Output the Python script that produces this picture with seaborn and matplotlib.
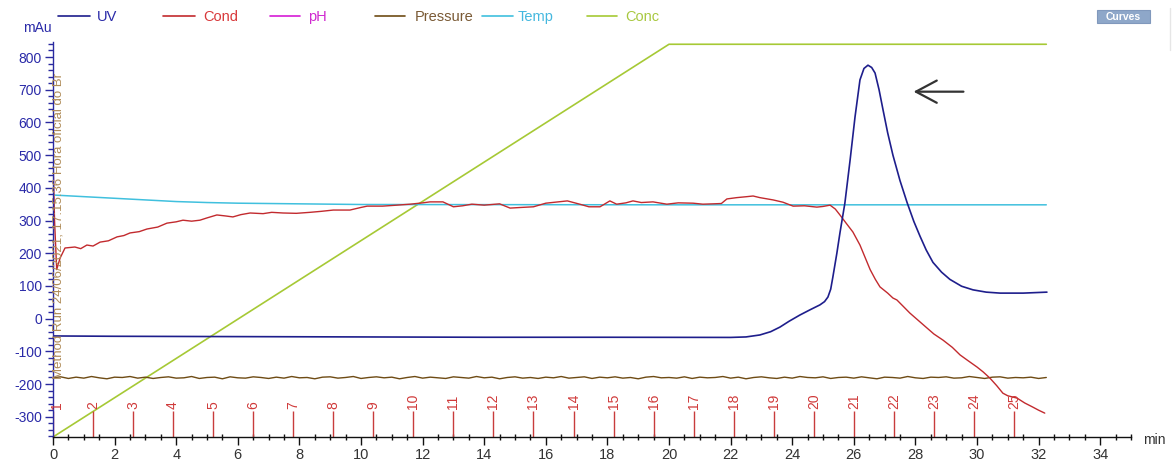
import numpy as np
import pandas as pd
import matplotlib
matplotlib.use("Agg")
import matplotlib.pyplot as plt
from matplotlib.lines import Line2D
from matplotlib.patches import Rectangle
from matplotlib.ticker import MultipleLocator
import seaborn as sns

# ---------------- data ----------------
uv_t = [0, 2, 6, 10, 14, 18, 22, 22.5, 22.95, 23.3, 23.6, 23.9, 24.25, 24.6, 24.9,
        25.05, 25.16, 25.25, 25.32, 25.45, 25.55, 25.71, 25.88, 26.04, 26.2, 26.33,
        26.46, 26.58, 26.69, 26.82, 26.95, 27.1, 27.27, 27.5, 27.73, 27.95, 28.15,
        28.35, 28.57, 28.85, 29.12, 29.5, 29.87, 30.3, 30.75, 31.5, 32.27]
uv_v = [-53, -54, -55, -56, -57, -57, -57.5, -56, -50, -40, -26, -8, 11, 28, 42,
        52, 66, 90, 127, 200, 262, 353, 485, 617, 730, 765,
        775, 768, 751, 700, 638, 568, 500, 422, 355, 297, 252,
        210, 172, 142, 120, 99, 88, 81, 78, 78, 81]

cond_t = [0.0, 0.05, 0.12, 0.23, 0.39, 0.71, 0.9, 1.1, 1.3, 1.53, 1.8, 2.08, 2.3, 2.5,
          2.8, 3.05, 3.4, 3.7, 4.0, 4.22, 4.5, 4.77, 5.0, 5.32, 5.6, 5.84, 6.1, 6.4,
          6.82, 7.1, 7.47, 7.9, 8.34, 8.7, 9.1, 9.64, 10.0, 10.2, 10.7, 11.17, 11.6,
          12.0, 12.24, 12.66, 13.0, 13.3, 13.6, 14.0, 14.5, 14.84, 15.2, 15.6, 16.0,
          16.4, 16.7, 17.1, 17.4, 17.76, 18.08, 18.3, 18.6, 18.83, 19.1, 19.48, 19.93,
          20.3, 20.78, 21.1, 21.43, 21.7, 21.88, 22.2, 22.53, 22.73, 22.95, 23.38,
          23.7, 24.03, 24.4, 24.8, 25.0, 25.23, 25.4, 25.55, 25.75, 25.97, 26.2,
          26.53, 26.7, 26.85, 27.1, 27.27, 27.4, 27.6, 27.82, 28.1, 28.38, 28.6,
          28.9, 29.2, 29.45, 29.7, 30.0, 30.2, 30.42, 30.64, 30.84, 31.0, 31.3,
          31.55, 31.8, 32.0, 32.2]
cond_v = [500, 300, 150, 185, 216, 219, 214, 225, 222, 234, 238, 250, 254, 262,
          266, 274, 280, 292, 296, 301, 298, 301, 308, 317, 314, 311, 318, 323,
          321, 325, 323, 322, 325, 328, 332, 332, 340, 344, 344, 347, 350,
          354, 357, 357, 342, 345, 350, 347, 351, 338, 340, 342, 353,
          357, 360, 350, 342, 342, 360, 350, 354, 360, 355, 357, 350,
          354, 353, 350, 351, 352, 366, 370, 373, 375, 370, 363,
          356, 344, 345, 341, 343, 347, 335, 317, 292, 265, 225,
          150, 120, 97, 78, 63, 57, 38, 17, -6, -29, -47,
          -66, -88, -111, -128, -148, -163, -182, -205, -228, -236, -243,
          -258, -270, -280, -289]

temp_t = [0, 1, 2, 3, 4, 5, 6, 7, 8, 9, 10, 20, 32.25]
temp_v = [378, 373, 368, 363, 358, 355, 353, 352, 351, 350, 349, 348, 348]

conc_t = [0, 20, 32.25]
conc_v = [-362, 839, 839]

pressure_step = 0.25
pressure_v = [
    -181, -178, -183, -179, -182, -177, -181, -184, -179, -180,
    -177, -182, -179, -183, -180, -178, -182, -181, -177, -183,
    -180, -179, -184, -178, -181, -182, -178, -180, -183, -179,
    -182, -177, -181, -180, -184, -179, -178, -182, -180, -177,
    -183, -180, -178, -181, -179, -184, -180, -177, -182, -179,
    -181, -183, -178, -180, -182, -177, -181, -179, -184, -180,
    -178, -182, -180, -183, -179, -181, -177, -182, -180, -178,
    -183, -179, -181, -178, -182, -180, -184, -179, -177, -181,
    -180, -182, -178, -183, -179, -181, -180, -177, -182, -179,
    -184, -180, -178, -181, -183, -179, -182, -177, -180, -181,
    -178, -183, -180, -179, -182, -178, -181, -184, -179, -180,
    -182, -177, -181, -183, -179, -180, -178, -182, -181, -177,
    -180, -183, -179, -178, -182, -180, -181, -179, -183, -180]
pressure_t = [i * pressure_step for i in range(len(pressure_v))]

frac_t = [0, 1.3, 2.6, 3.9, 5.2, 6.5, 7.8, 9.1, 10.4, 11.7, 13.0, 14.3, 15.6,
          16.9, 18.2, 19.5, 20.8, 22.1, 23.4, 24.7, 26.0, 27.3, 28.6, 29.9, 31.2]
frac_labels = [str(i) for i in range(1, 26)]

series_names = ["UV", "Cond", "pH", "Pressure", "Temp", "Conc"]
line_colors = {"UV": "#1E1E8C", "Cond": "#C22A2E", "pH": "#D61BD6",
               "Pressure": "#6E4B14", "Temp": "#40C0DE", "Conc": "#A6C935"}
text_colors = {"UV": "#2A2AA8", "Cond": "#D8383A", "pH": "#D02AD0",
               "Pressure": "#7A5A35", "Temp": "#45B8DF", "Conc": "#A8C840"}

x_ticks = list(range(0, 35, 2))
y_ticks = list(range(-300, 801, 100))

# ---------------- figure ----------------
sns.set_style("white")
plt.rcParams['font.family'] = ['Liberation Sans', 'DejaVu Sans']
plt.rcParams['axes.unicode_minus'] = False

W, H = 1175, 469
fig = plt.figure(figsize=(W / 100, H / 100), dpi=100)
ax = fig.add_axes([53 / W, (H - 437) / H, (1131 - 53) / W, (437 - 42.3) / H])
XMIN, XMAX, YMIN, YMAX = 0, 35, -362, 845

frames = {
    "Conc": pd.DataFrame({"t": conc_t, "v": conc_v}),
    "Temp": pd.DataFrame({"t": temp_t, "v": temp_v}),
    "Pressure": pd.DataFrame({"t": pressure_t, "v": pressure_v}),
    "Cond": pd.DataFrame({"t": cond_t, "v": cond_v}),
    "UV": pd.DataFrame({"t": uv_t, "v": uv_v}),
}
widths = {"Conc": 1.2, "Temp": 1.1, "Pressure": 1.0, "Cond": 1.0, "UV": 1.2}
for name, df in frames.items():
    sns.lineplot(data=df, x="t", y="v", ax=ax, color=line_colors[name],
                 lw=widths[name], estimator=None, sort=False, legend=False)

# fraction markers
ax.vlines(frac_t, YMIN, -281, color="#C83C3C", lw=1.0)
for t, lab in zip(frac_t, frac_labels):
    ax.text(t + (0.12 if t == 0 else 0), -277, lab, rotation=90, ha="center",
            va="bottom", color="#D03A3A", fontsize=10)

# rotated run text
ax.text(0.17, -185, "Method Run 24/06/2021, 17:15:36 Hora oficial do Br",
        rotation=90, ha="center", va="bottom", color="#B08C58", fontsize=9.5,
        clip_on=False)

# arrow pointing at the peak
ax.annotate("", xy=(27.85, 694), xytext=(29.65, 694),
            arrowprops=dict(arrowstyle="->,head_length=1.5,head_width=0.8",
                            color="#333333", lw=1.6))

ax.set_xlim(XMIN, XMAX)
ax.set_ylim(YMIN, YMAX)
ax.set_xticks(x_ticks)
ax.set_yticks(y_ticks)
ax.xaxis.set_minor_locator(MultipleLocator(0.5))
ax.yaxis.set_minor_locator(MultipleLocator(20))
ax.set_xlabel("")
ax.set_ylabel("")
ax.grid(False)
for s in ["top", "right"]:
    ax.spines[s].set_visible(False)
ax.spines["left"].set_color("#2A2AA0")
ax.spines["bottom"].set_color("#111111")
ax.spines["left"].set_linewidth(1.0)
ax.spines["bottom"].set_linewidth(1.0)
ax.tick_params(axis="y", which="major", direction="out", length=6, width=1,
               color="#2A2AA0", labelcolor="#2A2AA8", labelsize=10, pad=2, left=True)
ax.tick_params(axis="y", which="minor", direction="out", length=3.5, width=1,
               color="#2A2AA0", left=True)
ax.tick_params(axis="x", which="major", direction="out", length=6, width=1,
               color="#111111", labelcolor="#333333", labelsize=10.5, pad=2, bottom=True)
ax.tick_params(axis="x", which="minor", direction="inout", length=5, width=1,
               color="#111111", bottom=True)

# axis unit labels
fig.text(23 / W, 1 - 28 / H, "mAu", color="#2A2AA8", fontsize=10, ha="left", va="center")
fig.text(1143 / W, 1 - 440 / H, "min", color="#333333", fontsize=10, ha="left", va="center")

# legend row across the top
legend_pos = {"UV": (58, 90, 97), "Cond": (163, 195, 203), "pH": (270, 300, 308),
              "Pressure": (375, 405, 415), "Temp": (482, 513, 518),
              "Conc": (587, 617, 625)}
ly = 1 - 16 / H
for name in series_names:
    x1, x2, xt = legend_pos[name]
    fig.add_artist(Line2D([x1 / W, x2 / W], [ly, ly], color=line_colors[name],
                          lw=1.2, transform=fig.transFigure))
    fig.text(xt / W, 1 - 17 / H, name, color=text_colors[name], fontsize=10.5,
             ha="left", va="center")

# "Curves" button
fig.add_artist(Rectangle((1097 / W, 1 - 23 / H), 53 / W, 13 / H,
                         transform=fig.transFigure, fc="#8EA7C9", ec="#8098BC", lw=0.8))
fig.text(1123.5 / W, 1 - 16.5 / H, "Curves", color="white", fontsize=7.5,
         fontweight="bold", ha="center", va="center")
fig.add_artist(Line2D([1170 / W, 1170 / W], [1 - 8 / H, 1 - 50 / H], color="#E6E6E6",
                      lw=1, transform=fig.transFigure))

fig.savefig("out.png", dpi=100, facecolor="white")
